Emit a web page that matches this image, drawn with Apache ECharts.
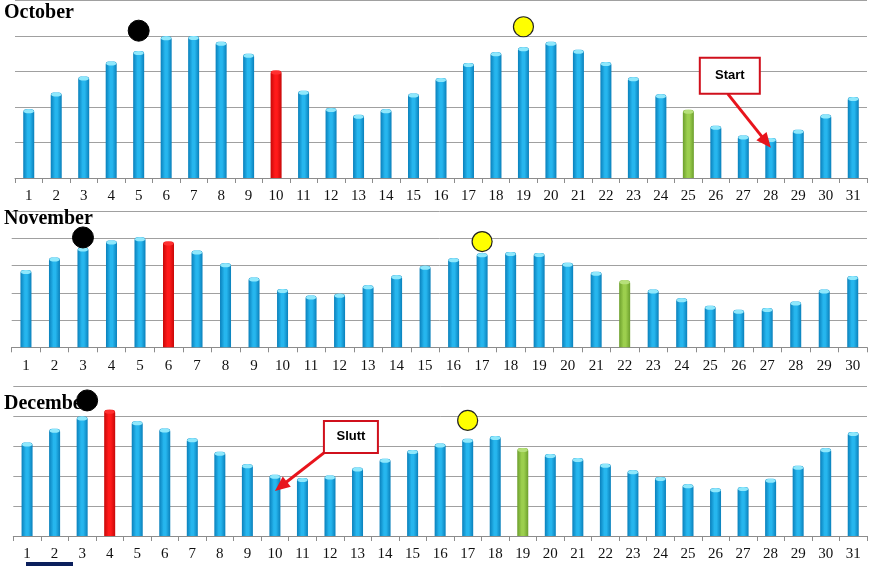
<!DOCTYPE html>
<html>
<head>
<meta charset="utf-8">
<script src="https://cdn.jsdelivr.net/npm/echarts@6/dist/echarts.min.js"></script>
<style>html,body{margin:0;padding:0;background:#fff}#c{width:873px;height:566px}</style>
</head>
<body>
<div id="c"></div>
<script>
// ---- data ----
const octDays = ['1','2','3','4','5','6','7','8','9','10','11','12','13','14','15','16','17','18','19','20','21','22','23','24','25','26','27','28','29','30','31'];
const novDays = ['1','2','3','4','5','6','7','8','9','10','11','12','13','14','15','16','17','18','19','20','21','22','23','24','25','26','27','28','29','30'];
const decDays = ['1','2','3','4','5','6','7','8','9','10','11','12','13','14','15','16','17','18','19','20','21','22','23','24','25','26','27','28','29','30','31'];

const octValues = [1.94,2.41,2.86,3.28,3.58,3.99,4.00,3.84,3.50,3.03,2.46,1.97,1.78,1.94,2.38,2.82,3.24,3.54,3.68,3.84,3.61,3.27,2.84,2.36,1.92,1.47,1.20,1.13,1.36,1.79,2.28];
const novValues = [2.84,3.29,3.66,3.92,4.04,3.88,3.55,3.08,2.56,2.14,1.90,1.96,2.28,2.64,2.99,3.27,3.45,3.50,3.46,3.10,2.77,2.46,2.12,1.80,1.52,1.38,1.44,1.68,2.12,2.62];
const decValues = [3.13,3.59,4.00,4.23,3.84,3.60,3.27,2.82,2.40,2.05,1.94,2.03,2.29,2.59,2.88,3.10,3.26,3.35,2.95,2.75,2.61,2.42,2.20,1.98,1.73,1.60,1.64,1.92,2.35,2.94,3.48];

const months = ['October','November','December'];
const redDay = ['10','6','4'];
const greenDay = ['25','22','19'];
const blackMarkerDay = ['5','3','3'];
const blackMarkerValue = [4.15,4.03,4.54];
const yellowMarkerDay = ['19','17','17'];
const yellowMarkerValue = [4.26,3.88,3.87];
const startNote = {text:'Start', month:0, day:'28', value:0.85};
const endNote = {text:'Slutt', month:2, day:'10', value:1.51};

// ---- styles ----
function grad(edge, mid){
  return new echarts.graphic.LinearGradient(0,0,1,0,[
    {offset:0,color:edge},{offset:0.4,color:mid},{offset:0.6,color:mid},{offset:1,color:edge}]);
}
const blueFill = grad('#0a80bb','#26b6ee');
const redFill = grad('#c80808','#ff1a1a');
const greenFill = grad('#6c9f2c','#9ccf4e');

const grids = [
  {left:15, right:6, top:0.5, bottom:388},
  {left:11.7, right:6, top:211, bottom:218.7},
  {left:13.3, right:6, top:386.7, bottom:30}
];
const cats = [octDays, novDays, decDays];
const vals = [octValues, novValues, decValues];
const titleTops = [3, 209, 394];

const xAxes = [], yAxes = [], series = [], titles = [];
for (let i=0;i<3;i++){
  xAxes.push({
    type:'category', gridIndex:i, data:cats[i], boundaryGap:true,
    axisLine:{show:true, lineStyle:{color:'#8c8c8c', width:1}},
    axisTick:{show:true, length:5, lineStyle:{color:'#8c8c8c'}},
    axisLabel:{fontFamily:'Liberation Serif', fontSize:15, color:'#111', margin:11, interval:0}
  });
  yAxes.push({
    type:'value', gridIndex:i, min:0, max:5, interval:1,
    axisLabel:{show:false}, axisLine:{show:false}, axisTick:{show:false},
    splitLine:{show:true, lineStyle:{color:'#a0a0a0', width:1}}
  });
  const data = vals[i].map((v,k)=>{
    const d = cats[i][k];
    let fill = blueFill;
    if (d===redDay[i]) fill = redFill;
    if (d===greenDay[i]) fill = greenFill;
    return {value:v, itemStyle:{color:fill}};
  });
  series.push({
    type:'bar', xAxisIndex:i, yAxisIndex:i, barWidth:11, data:data,
    itemStyle:{borderRadius:[3,3,0,0]}, silent:true, z:2
  });
  // bar caps
  series.push({
    type:'scatter', xAxisIndex:i, yAxisIndex:i, symbol:'circle', symbolSize:[10,4], symbolOffset:[0,2],
    data: vals[i].map((v,k)=>{
      const d = cats[i][k];
      let c = '#8fe8fc';
      if (d===redDay[i]) c = '#ff3030';
      if (d===greenDay[i]) c = '#b6e07a';
      return {value:[d,v], itemStyle:{color:c, opacity:1}};
    }), silent:true, z:3
  });
  series.push({
    type:'scatter', xAxisIndex:i, yAxisIndex:i, symbol:'circle', symbolSize:21,
    symbolOffset: i===2 ? [5,0] : [0,0],
    itemStyle:{color:'#000', borderColor:'#000', borderWidth:1, opacity:1},
    data:[[blackMarkerDay[i], blackMarkerValue[i]]], z:10, silent:true
  });
  series.push({
    type:'scatter', xAxisIndex:i, yAxisIndex:i, symbol:'circle', symbolSize:20,
    itemStyle:{color:'#ffff00', borderColor:'#222', borderWidth:1.2, opacity:1},
    data:[[yellowMarkerDay[i], yellowMarkerValue[i]]], z:10, silent:true
  });
  titles.push({
    text:months[i], left:4, top:titleTops[i], padding:0, z:1,
    textStyle:{fontFamily:'Liberation Serif', fontWeight:'bold', fontSize:20, color:'#000'}
  });
}

const chart = echarts.init(document.getElementById('c'), null, {renderer:'canvas'});
chart.setOption({
  animation:false,
  backgroundColor:'#fff',
  title:titles,
  grid:grids,
  xAxis:xAxes,
  yAxis:yAxes,
  series:series
});

function arrow(S, T, color){
  const dx=T[0]-S[0], dy=T[1]-S[1], len=Math.hypot(dx,dy);
  const ux=dx/len, uy=dy/len, nx=-uy, ny=ux;
  const L=15, W=13;
  const B=[T[0]-ux*L, T[1]-uy*L];
  return [
    {type:'line', shape:{x1:S[0],y1:S[1],x2:B[0]+ux*2,y2:B[1]+uy*2}, style:{stroke:color, lineWidth:3}, z:20},
    {type:'polygon', shape:{points:[T,[B[0]+nx*W/2,B[1]+ny*W/2],[B[0]-nx*W/2,B[1]-ny*W/2]]}, style:{fill:color}, z:20}
  ];
}
function note(n, boxDx, boxDy, w, h, startFromBox){
  const T = chart.convertToPixel({gridIndex:n.month}, [n.day, n.value]);
  const bx = T[0]+boxDx, by = T[1]+boxDy;
  const S = startFromBox(bx,by,w,h);
  return [
    {type:'rect', shape:{x:bx,y:by,width:w,height:h}, style:{fill:'#fff', stroke:'#d0101c', lineWidth:2}, z:21},
    {type:'text', x:bx+w/2, y:by+h/2, style:{text:n.text, fill:'#000', font:'bold 13px "Liberation Sans", Arial', align:'center', verticalAlign:'middle'}, z:22}
  ].concat(arrow(S, T, '#e8141c'));
}
const g = []
  .concat(note(startNote, -71, -90, 60, 36, (x,y,w,h)=>[x+28,y+h]))
  .concat(note(endNote, 49, -70, 54, 32, (x,y,w,h)=>[x,y+h]));
g.push({type:'rect', shape:{x:26,y:562,width:47,height:4}, style:{fill:'#0b1f5c'}, z:20});
chart.setOption({graphic:g});
</script>
</body>
</html>
